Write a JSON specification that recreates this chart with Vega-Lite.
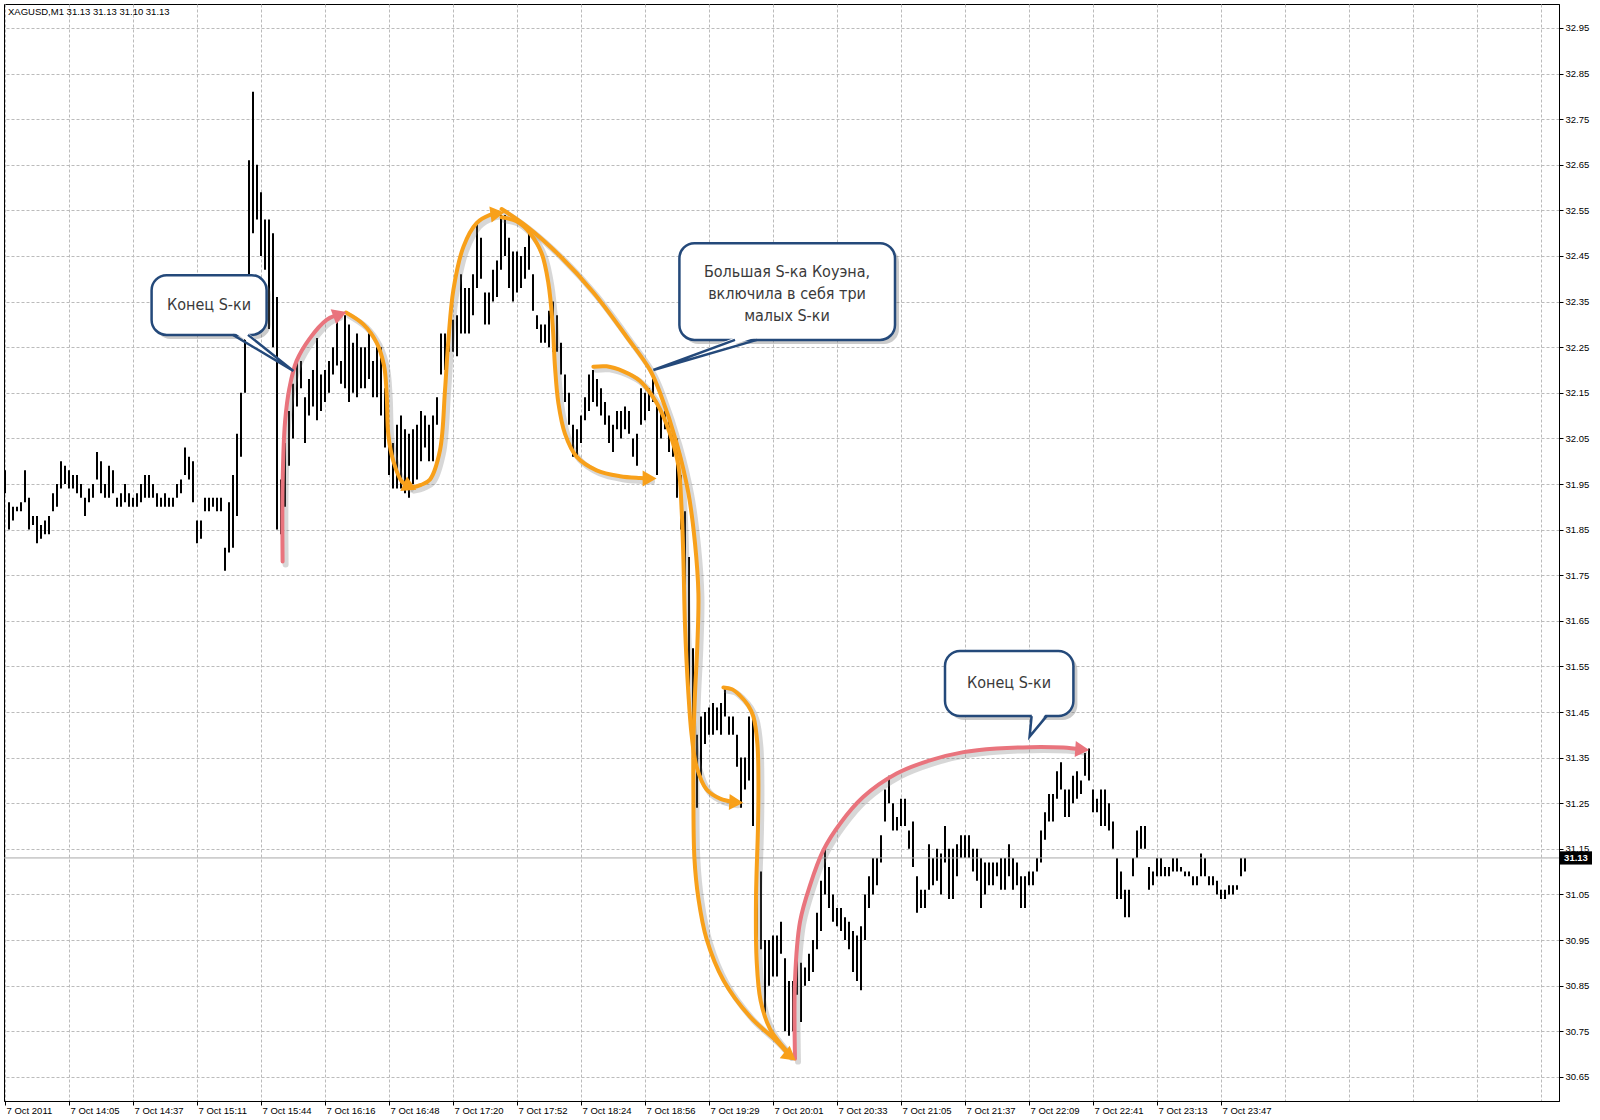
{
"$schema": "https://vega.github.io/schema/vega-lite/v6.json",
"width": 1555, "height": 1097,
"autosize": {"type": "none"},
"padding": {"left": 4, "top": 4, "right": 41, "bottom": 19},
"background": "#ffffff",
"config": {"view": {"stroke": "#000000", "strokeWidth": 1}},
"datasets": {
"bars": [
{"i":0,"l":31.93,"h":31.98},{"i":2,"l":31.85,"h":31.91},{"i":4,"l":31.87,"h":31.90},{"i":6,"l":31.89,"h":31.90},{"i":8,"l":31.89,"h":31.91},{"i":10,"l":31.91,"h":31.98},{"i":12,"l":31.85,"h":31.92},{"i":14,"l":31.86,"h":31.88},{"i":16,"l":31.82,"h":31.88},{"i":18,"l":31.83,"h":31.86},
{"i":20,"l":31.84,"h":31.87},{"i":22,"l":31.84,"h":31.88},{"i":24,"l":31.89,"h":31.93},{"i":26,"l":31.90,"h":31.95},{"i":28,"l":31.94,"h":32.00},{"i":30,"l":31.95,"h":31.99},{"i":32,"l":31.94,"h":31.98},{"i":34,"l":31.94,"h":31.97},{"i":36,"l":31.93,"h":31.97},{"i":38,"l":31.92,"h":31.95},
{"i":40,"l":31.88,"h":31.92},{"i":42,"l":31.91,"h":31.94},{"i":44,"l":31.92,"h":31.95},{"i":46,"l":31.96,"h":32.02},{"i":48,"l":31.93,"h":32.00},{"i":50,"l":31.92,"h":31.95},{"i":52,"l":31.92,"h":31.99},{"i":54,"l":31.93,"h":31.98},{"i":56,"l":31.90,"h":31.92},{"i":58,"l":31.90,"h":31.93},
{"i":60,"l":31.91,"h":31.95},{"i":62,"l":31.90,"h":31.93},{"i":64,"l":31.90,"h":31.92},{"i":66,"l":31.90,"h":31.93},{"i":68,"l":31.91,"h":31.95},{"i":70,"l":31.92,"h":31.97},{"i":72,"l":31.92,"h":31.97},{"i":74,"l":31.92,"h":31.95},{"i":76,"l":31.90,"h":31.93},{"i":78,"l":31.90,"h":31.92},
{"i":80,"l":31.90,"h":31.93},{"i":82,"l":31.90,"h":31.92},{"i":84,"l":31.90,"h":31.92},{"i":86,"l":31.92,"h":31.95},{"i":88,"l":31.93,"h":31.96},{"i":90,"l":31.97,"h":32.03},{"i":92,"l":31.96,"h":32.01},{"i":94,"l":31.91,"h":32.00},{"i":96,"l":31.82,"h":31.87},{"i":98,"l":31.83,"h":31.87},
{"i":100,"l":31.89,"h":31.92},{"i":102,"l":31.89,"h":31.92},{"i":104,"l":31.90,"h":31.92},{"i":106,"l":31.89,"h":31.92},{"i":108,"l":31.89,"h":31.92},{"i":110,"l":31.76,"h":31.81},{"i":112,"l":31.80,"h":31.91},{"i":114,"l":31.81,"h":31.97},{"i":116,"l":31.88,"h":32.06},{"i":118,"l":32.01,"h":32.15},
{"i":120,"l":32.15,"h":32.30},{"i":122,"l":32.40,"h":32.66},{"i":124,"l":32.50,"h":32.81},{"i":126,"l":32.53,"h":32.65},{"i":128,"l":32.45,"h":32.59},{"i":130,"l":32.42,"h":32.53},{"i":132,"l":32.29,"h":32.53},{"i":134,"l":32.25,"h":32.50},{"i":136,"l":31.85,"h":32.36},{"i":138,"l":31.84,"h":31.96},
{"i":140,"l":31.90,"h":32.04},{"i":142,"l":31.99,"h":32.11},{"i":144,"l":32.05,"h":32.17},{"i":146,"l":32.12,"h":32.22},{"i":148,"l":32.16,"h":32.22},{"i":150,"l":32.04,"h":32.14},{"i":152,"l":32.10,"h":32.18},{"i":154,"l":32.12,"h":32.20},{"i":156,"l":32.09,"h":32.27},{"i":158,"l":32.11,"h":32.19},
{"i":160,"l":32.13,"h":32.20},{"i":162,"l":32.15,"h":32.22},{"i":164,"l":32.19,"h":32.25},{"i":166,"l":32.21,"h":32.32},{"i":168,"l":32.17,"h":32.22},{"i":170,"l":32.16,"h":32.32},{"i":172,"l":32.13,"h":32.30},{"i":174,"l":32.15,"h":32.26},{"i":176,"l":32.14,"h":32.28},{"i":178,"l":32.16,"h":32.25},
{"i":180,"l":32.16,"h":32.25},{"i":182,"l":32.18,"h":32.28},{"i":184,"l":32.14,"h":32.22},{"i":186,"l":32.14,"h":32.25},{"i":188,"l":32.10,"h":32.25},{"i":190,"l":32.03,"h":32.16},{"i":192,"l":31.97,"h":32.06},{"i":194,"l":31.94,"h":32.04},{"i":196,"l":31.94,"h":32.08},{"i":198,"l":31.94,"h":32.10},
{"i":200,"l":31.93,"h":32.07},{"i":202,"l":31.92,"h":32.06},{"i":204,"l":31.95,"h":32.07},{"i":206,"l":31.96,"h":32.08},{"i":208,"l":32.00,"h":32.11},{"i":210,"l":32.03,"h":32.10},{"i":212,"l":32.00,"h":32.08},{"i":214,"l":32.00,"h":32.10},{"i":216,"l":32.08,"h":32.14},{"i":218,"l":32.19,"h":32.28},
{"i":220,"l":32.20,"h":32.28},{"i":222,"l":32.24,"h":32.30},{"i":224,"l":32.24,"h":32.31},{"i":226,"l":32.23,"h":32.32},{"i":228,"l":32.28,"h":32.41},{"i":230,"l":32.28,"h":32.38},{"i":232,"l":32.28,"h":32.38},{"i":234,"l":32.32,"h":32.41},{"i":236,"l":32.38,"h":32.52},{"i":238,"l":32.40,"h":32.49},
{"i":240,"l":32.30,"h":32.37},{"i":242,"l":32.30,"h":32.37},{"i":244,"l":32.35,"h":32.42},{"i":246,"l":32.36,"h":32.44},{"i":248,"l":32.42,"h":32.54},{"i":250,"l":32.45,"h":32.54},{"i":252,"l":32.38,"h":32.49},{"i":254,"l":32.35,"h":32.46},{"i":256,"l":32.37,"h":32.46},{"i":258,"l":32.38,"h":32.45},
{"i":260,"l":32.40,"h":32.47},{"i":262,"l":32.42,"h":32.51},{"i":264,"l":32.33,"h":32.41},{"i":266,"l":32.29,"h":32.32},{"i":268,"l":32.26,"h":32.30},{"i":270,"l":32.26,"h":32.30},{"i":272,"l":32.25,"h":32.33},{"i":274,"l":32.24,"h":32.35},{"i":276,"l":32.24,"h":32.32},{"i":278,"l":32.19,"h":32.26},
{"i":280,"l":32.13,"h":32.19},{"i":282,"l":32.08,"h":32.15},{"i":284,"l":32.01,"h":32.08},{"i":286,"l":32.01,"h":32.07},{"i":288,"l":32.04,"h":32.10},{"i":290,"l":32.09,"h":32.14},{"i":292,"l":32.11,"h":32.19},{"i":294,"l":32.13,"h":32.20},{"i":296,"l":32.12,"h":32.18},{"i":298,"l":32.10,"h":32.16},
{"i":300,"l":32.08,"h":32.13},{"i":302,"l":32.04,"h":32.10},{"i":304,"l":32.02,"h":32.08},{"i":306,"l":32.07,"h":32.11},{"i":308,"l":32.05,"h":32.11},{"i":310,"l":32.07,"h":32.12},{"i":312,"l":32.06,"h":32.11},{"i":314,"l":32.01,"h":32.05},{"i":316,"l":31.99,"h":32.06},{"i":318,"l":32.08,"h":32.16},
{"i":320,"l":32.09,"h":32.15},{"i":322,"l":32.11,"h":32.16},{"i":324,"l":32.13,"h":32.18},{"i":326,"l":31.97,"h":32.12},{"i":328,"l":32.05,"h":32.11},{"i":330,"l":32.07,"h":32.11},{"i":332,"l":32.02,"h":32.09},{"i":334,"l":32.01,"h":32.06},{"i":336,"l":31.92,"h":32.05},{"i":338,"l":31.85,"h":31.97},
{"i":340,"l":31.69,"h":31.89},{"i":342,"l":31.49,"h":31.79},{"i":344,"l":31.38,"h":31.59},{"i":346,"l":31.24,"h":31.40},{"i":348,"l":31.31,"h":31.44},{"i":350,"l":31.38,"h":31.45},{"i":352,"l":31.40,"h":31.46},{"i":354,"l":31.40,"h":31.47},{"i":356,"l":31.41,"h":31.46},{"i":358,"l":31.40,"h":31.47},
{"i":360,"l":31.44,"h":31.50},{"i":362,"l":31.40,"h":31.44},{"i":364,"l":31.40,"h":31.44},{"i":366,"l":31.33,"h":31.40},{"i":368,"l":31.24,"h":31.35},{"i":370,"l":31.28,"h":31.35},{"i":372,"l":31.30,"h":31.44},{"i":374,"l":31.20,"h":31.44},{"i":376,"l":30.95,"h":31.19},{"i":378,"l":30.93,"h":31.10},
{"i":380,"l":30.79,"h":30.95},{"i":382,"l":30.85,"h":30.95},{"i":384,"l":30.87,"h":30.96},{"i":386,"l":30.87,"h":30.96},{"i":388,"l":30.92,"h":30.99},{"i":390,"l":30.75,"h":30.91},{"i":392,"l":30.74,"h":30.86},{"i":394,"l":30.75,"h":30.86},{"i":396,"l":30.83,"h":30.93},{"i":398,"l":30.77,"h":30.90},
{"i":400,"l":30.85,"h":30.89},{"i":402,"l":30.86,"h":30.92},{"i":404,"l":30.88,"h":30.95},{"i":406,"l":30.93,"h":31.01},{"i":408,"l":30.97,"h":31.08},{"i":410,"l":31.05,"h":31.15},{"i":412,"l":31.02,"h":31.11},{"i":414,"l":30.99,"h":31.05},{"i":416,"l":30.98,"h":31.02},{"i":418,"l":30.97,"h":31.02},
{"i":420,"l":30.95,"h":31.00},{"i":422,"l":30.93,"h":30.99},{"i":424,"l":30.88,"h":30.97},{"i":426,"l":30.86,"h":30.96},{"i":428,"l":30.84,"h":30.98},{"i":430,"l":30.95,"h":31.05},{"i":432,"l":31.02,"h":31.09},{"i":434,"l":31.05,"h":31.13},{"i":436,"l":31.07,"h":31.13},{"i":438,"l":31.12,"h":31.18},
{"i":440,"l":31.21,"h":31.28},{"i":442,"l":31.25,"h":31.31},{"i":444,"l":31.19,"h":31.25},{"i":446,"l":31.19,"h":31.22},{"i":448,"l":31.20,"h":31.26},{"i":450,"l":31.20,"h":31.26},{"i":452,"l":31.15,"h":31.19},{"i":454,"l":31.11,"h":31.21},{"i":456,"l":31.01,"h":31.09},{"i":458,"l":31.02,"h":31.06},
{"i":460,"l":31.02,"h":31.06},{"i":462,"l":31.06,"h":31.16},{"i":464,"l":31.07,"h":31.13},{"i":466,"l":31.08,"h":31.15},{"i":468,"l":31.05,"h":31.14},{"i":470,"l":31.12,"h":31.20},{"i":472,"l":31.04,"h":31.15},{"i":474,"l":31.04,"h":31.15},{"i":476,"l":31.09,"h":31.16},{"i":478,"l":31.13,"h":31.18},
{"i":480,"l":31.13,"h":31.18},{"i":482,"l":31.13,"h":31.18},{"i":484,"l":31.10,"h":31.15},{"i":486,"l":31.08,"h":31.15},{"i":488,"l":31.02,"h":31.13},{"i":490,"l":31.05,"h":31.12},{"i":492,"l":31.07,"h":31.12},{"i":494,"l":31.07,"h":31.12},{"i":496,"l":31.09,"h":31.12},{"i":498,"l":31.06,"h":31.13},
{"i":500,"l":31.06,"h":31.13},{"i":502,"l":31.09,"h":31.16},{"i":504,"l":31.06,"h":31.13},{"i":506,"l":31.07,"h":31.12},{"i":508,"l":31.02,"h":31.09},{"i":510,"l":31.02,"h":31.09},{"i":512,"l":31.07,"h":31.10},{"i":514,"l":31.07,"h":31.10},{"i":516,"l":31.10,"h":31.13},{"i":518,"l":31.12,"h":31.19},
{"i":520,"l":31.17,"h":31.23},{"i":522,"l":31.21,"h":31.27},{"i":524,"l":31.21,"h":31.27},{"i":526,"l":31.26,"h":31.32},{"i":528,"l":31.28,"h":31.34},{"i":530,"l":31.22,"h":31.28},{"i":532,"l":31.22,"h":31.28},{"i":534,"l":31.25,"h":31.31},{"i":536,"l":31.26,"h":31.32},{"i":538,"l":31.27,"h":31.30},
{"i":540,"l":31.31,"h":31.36},{"i":542,"l":31.30,"h":31.37},{"i":544,"l":31.23,"h":31.28},{"i":546,"l":31.23,"h":31.26},{"i":548,"l":31.20,"h":31.28},{"i":550,"l":31.20,"h":31.28},{"i":552,"l":31.19,"h":31.25},{"i":554,"l":31.15,"h":31.21},{"i":556,"l":31.04,"h":31.13},{"i":558,"l":31.04,"h":31.10},
{"i":560,"l":31.00,"h":31.06},{"i":562,"l":31.00,"h":31.06},{"i":564,"l":31.09,"h":31.13},{"i":566,"l":31.13,"h":31.19},{"i":568,"l":31.15,"h":31.20},{"i":570,"l":31.15,"h":31.20},{"i":572,"l":31.06,"h":31.11},{"i":574,"l":31.07,"h":31.10},{"i":576,"l":31.09,"h":31.13},{"i":578,"l":31.09,"h":31.13},
{"i":580,"l":31.09,"h":31.11},{"i":582,"l":31.09,"h":31.11},{"i":584,"l":31.10,"h":31.13},{"i":586,"l":31.10,"h":31.13},{"i":588,"l":31.10,"h":31.11},{"i":590,"l":31.09,"h":31.10},{"i":592,"l":31.09,"h":31.10},{"i":594,"l":31.07,"h":31.09},{"i":596,"l":31.07,"h":31.09},{"i":598,"l":31.09,"h":31.14},
{"i":600,"l":31.09,"h":31.13},{"i":602,"l":31.07,"h":31.09},{"i":604,"l":31.07,"h":31.09},{"i":606,"l":31.05,"h":31.08},{"i":608,"l":31.04,"h":31.06},{"i":610,"l":31.04,"h":31.06},{"i":612,"l":31.05,"h":31.07},{"i":614,"l":31.05,"h":31.07},{"i":616,"l":31.06,"h":31.07},{"i":618,"l":31.09,"h":31.13},
{"i":620,"l":31.10,"h":31.13}
],
"paths": [
{"path":"p1","kind":"end","k":0,"i":138.8,"p":31.78},{"path":"p1","kind":"end","k":1,"i":138.8,"p":31.95},{"path":"p1","kind":"end","k":2,"i":140,"p":32.085},{"path":"p1","kind":"end","k":3,"i":142.2,"p":32.16},{"path":"p1","kind":"end","k":4,"i":145.8,"p":32.22},{"path":"p1","kind":"end","k":5,"i":152.5,"p":32.27},{"path":"p1","kind":"end","k":6,"i":160.8,"p":32.31},{"path":"p1","kind":"end","k":7,"i":166,"p":32.321},
{"path":"o1","kind":"s","k":0,"i":170.5,"p":32.326},{"path":"o1","kind":"s","k":1,"i":179.2,"p":32.30},{"path":"o1","kind":"s","k":2,"i":185.8,"p":32.26},{"path":"o1","kind":"s","k":3,"i":189.5,"p":32.21},{"path":"o1","kind":"s","k":4,"i":190.8,"p":32.15},{"path":"o1","kind":"s","k":5,"i":191.7,"p":32.056},{"path":"o1","kind":"s","k":6,"i":194.2,"p":32.0},{"path":"o1","kind":"s","k":7,"i":198.3,"p":31.956},{"path":"o1","kind":"s","k":8,"i":201.5,"p":31.945},
{"path":"o2","kind":"s","k":0,"i":203,"p":31.942},{"path":"o2","kind":"s","k":1,"i":208,"p":31.948},{"path":"o2","kind":"s","k":2,"i":212.5,"p":31.96},{"path":"o2","kind":"s","k":3,"i":217.5,"p":32.024},{"path":"o2","kind":"s","k":4,"i":220,"p":32.156},{"path":"o2","kind":"s","k":5,"i":221.7,"p":32.266},{"path":"o2","kind":"s","k":6,"i":224.2,"p":32.376},{"path":"o2","kind":"s","k":7,"i":229.2,"p":32.47},{"path":"o2","kind":"s","k":8,"i":235.8,"p":32.522},{"path":"o2","kind":"s","k":9,"i":242.5,"p":32.54},{"path":"o2","kind":"s","k":10,"i":246,"p":32.543},
{"path":"o3","kind":"s","k":0,"i":248.3,"p":32.535},{"path":"o3","kind":"s","k":1,"i":255.8,"p":32.526},{"path":"o3","kind":"s","k":2,"i":262.5,"p":32.50},{"path":"o3","kind":"s","k":3,"i":268.3,"p":32.456},{"path":"o3","kind":"s","k":4,"i":271.7,"p":32.39},{"path":"o3","kind":"s","k":5,"i":273.8,"p":32.30},{"path":"o3","kind":"s","k":6,"i":275,"p":32.207},{"path":"o3","kind":"s","k":7,"i":276.7,"p":32.127},{"path":"o3","kind":"s","k":8,"i":280,"p":32.06},{"path":"o3","kind":"s","k":9,"i":285.8,"p":32.01},{"path":"o3","kind":"s","k":10,"i":295.8,"p":31.98},{"path":"o3","kind":"s","k":11,"i":307.5,"p":31.967},{"path":"o3","kind":"s","k":12,"i":317.5,"p":31.963},{"path":"o3","kind":"s","k":13,"i":322,"p":31.962},
{"path":"b","kind":"s","k":0,"i":248.3,"p":32.553},{"path":"b","kind":"s","k":1,"i":260.8,"p":32.515},{"path":"b","kind":"s","k":2,"i":277.5,"p":32.45},{"path":"b","kind":"s","k":3,"i":294.2,"p":32.37},{"path":"b","kind":"s","k":4,"i":310.8,"p":32.273},{"path":"b","kind":"s","k":5,"i":322.5,"p":32.20},{"path":"b","kind":"s","k":6,"i":327.5,"p":32.15},{"path":"b","kind":"s","k":7,"i":335.8,"p":32.04},{"path":"b","kind":"s","k":8,"i":341.7,"p":31.93},{"path":"b","kind":"s","k":9,"i":345,"p":31.82},{"path":"b","kind":"s","k":10,"i":346.7,"p":31.71},{"path":"b","kind":"s","k":11,"i":346.2,"p":31.60},{"path":"b","kind":"s","k":12,"i":345,"p":31.49},{"path":"b","kind":"s","k":13,"i":344.2,"p":31.38},{"path":"b","kind":"s","k":14,"i":344.2,"p":31.27},{"path":"b","kind":"s","k":15,"i":344.7,"p":31.13},{"path":"b","kind":"s","k":16,"i":346.7,"p":31.041},{"path":"b","kind":"s","k":17,"i":350.8,"p":30.952},{"path":"b","kind":"s","k":18,"i":359.2,"p":30.862},{"path":"b","kind":"s","k":19,"i":372.5,"p":30.782},{"path":"b","kind":"s","k":20,"i":385.8,"p":30.728},{"path":"b","kind":"s","k":21,"i":392,"p":30.698},
{"path":"o4","kind":"s","k":0,"i":294.2,"p":32.207},{"path":"o4","kind":"s","k":1,"i":300.8,"p":32.208},{"path":"o4","kind":"s","k":2,"i":309.2,"p":32.197},{"path":"o4","kind":"s","k":3,"i":317.5,"p":32.176},{"path":"o4","kind":"s","k":4,"i":325.8,"p":32.128},{"path":"o4","kind":"s","k":5,"i":332.5,"p":32.06},{"path":"o4","kind":"s","k":6,"i":336.7,"p":31.99},{"path":"o4","kind":"s","k":7,"i":338.3,"p":31.895},{"path":"o4","kind":"s","k":8,"i":339.2,"p":31.785},{"path":"o4","kind":"s","k":9,"i":340,"p":31.64},{"path":"o4","kind":"s","k":10,"i":341.7,"p":31.49},{"path":"o4","kind":"s","k":11,"i":343.3,"p":31.40},{"path":"o4","kind":"s","k":12,"i":345.8,"p":31.33},{"path":"o4","kind":"s","k":13,"i":350.8,"p":31.28},{"path":"o4","kind":"s","k":14,"i":357.5,"p":31.26},{"path":"o4","kind":"s","k":15,"i":365,"p":31.252},
{"path":"o5","kind":"s","k":0,"i":359.2,"p":31.504},{"path":"o5","kind":"s","k":1,"i":363.5,"p":31.50},{"path":"o5","kind":"s","k":2,"i":367.5,"p":31.486},{"path":"o5","kind":"s","k":3,"i":371.5,"p":31.465},{"path":"o5","kind":"s","k":4,"i":374.2,"p":31.44},{"path":"o5","kind":"s","k":5,"i":376.2,"p":31.38},{"path":"o5","kind":"s","k":6,"i":376.7,"p":31.30},{"path":"o5","kind":"s","k":7,"i":376.5,"p":31.20},{"path":"o5","kind":"s","k":8,"i":375.5,"p":31.041},{"path":"o5","kind":"s","k":9,"i":375.8,"p":30.907},{"path":"o5","kind":"s","k":10,"i":377.8,"p":30.817},{"path":"o5","kind":"s","k":11,"i":382.5,"p":30.755},{"path":"o5","kind":"s","k":12,"i":389.2,"p":30.715},{"path":"o5","kind":"s","k":13,"i":392,"p":30.70},
{"path":"p2","kind":"end","k":0,"i":395,"p":30.69},{"path":"p2","kind":"end","k":1,"i":395,"p":30.862},{"path":"p2","kind":"end","k":2,"i":397.5,"p":30.99},{"path":"p2","kind":"end","k":3,"i":402.5,"p":31.07},{"path":"p2","kind":"end","k":4,"i":409.2,"p":31.147},{"path":"p2","kind":"end","k":5,"i":417.5,"p":31.205},{"path":"p2","kind":"end","k":6,"i":429.2,"p":31.264},{"path":"p2","kind":"end","k":7,"i":445.8,"p":31.315},{"path":"p2","kind":"end","k":8,"i":462.5,"p":31.344},{"path":"p2","kind":"end","k":9,"i":479.2,"p":31.362},{"path":"p2","kind":"end","k":10,"i":495.8,"p":31.37},{"path":"p2","kind":"end","k":11,"i":512.5,"p":31.373},{"path":"p2","kind":"end","k":12,"i":529.2,"p":31.372},{"path":"p2","kind":"end","k":13,"i":538,"p":31.368}
],
"arrows": [
{"kind":"end","i":167.5,"p":32.322,"dir":-20},
{"kind":"s","i":202.5,"p":31.944,"dir":25},
{"kind":"s","i":246.2,"p":32.543,"dir":-8},
{"kind":"s","i":322.3,"p":31.962,"dir":0},
{"kind":"s","i":365.6,"p":31.252,"dir":3},
{"kind":"s","i":392.6,"p":30.695,"dir":38},
{"kind":"end","i":538.6,"p":31.368,"dir":4}
],
"boxes": [
{"box":1,"x1":73.3,"x2":130.8,"y1":32.408,"y2":32.277},
{"box":2,"x1":337.2,"x2":445,"y1":32.478,"y2":32.266},
{"box":3,"x1":470,"x2":534.2,"y1":31.584,"y2":31.441}
],
"tails": [
{"box":1,"k":0,"i":114,"p":32.277},{"box":1,"k":1,"i":144.2,"p":32.198},{"box":1,"k":2,"i":121.5,"p":32.277},
{"box":2,"k":0,"i":365,"p":32.266},{"box":2,"k":1,"i":324.2,"p":32.20},{"box":2,"k":2,"i":376,"p":32.266},
{"box":3,"k":0,"i":513.3,"p":31.441},{"box":3,"k":1,"i":512.3,"p":31.396},{"box":3,"k":2,"i":520.8,"p":31.441}
],
"tailfill": [
{"box":1,"p":32.283,"a":114.3,"b":121.2},{"box":1,"p":32.198,"a":144.2,"b":144.2},
{"box":2,"p":32.272,"a":365.3,"b":375.7},{"box":2,"p":32.20,"a":324.2,"b":324.2},
{"box":3,"p":31.447,"a":513.5,"b":520.5},{"box":3,"p":31.396,"a":512.3,"b":512.3}
],
"texts": [
{"i":102,"p":32.343,"txt":"Конец S-ки"},
{"i":391,"p":32.416,"txt":"Большая S-ка Коуэна,"},
{"i":391,"p":32.367,"txt":"включила в себя три"},
{"i":391,"p":32.318,"txt":"малых S-ки"},
{"i":502,"p":31.513,"txt":"Конец S-ки"}
]
},
"layer": [
{
"data": {"name": "bars"},
"mark": {"type": "rule", "color": "#000000", "strokeWidth": 2},
"encoding": {
"x": {"field": "i", "type": "quantitative",
"scale": {"domain": [-0.5, 777], "nice": false, "zero": false},
"axis": {"orient": "bottom", "title": null,
"values": [0,16,32,48,64,80,96,112,128,144,160,176,192,208,224,240,256,272,288,304,320,336,352,368,384,400,416,432,448,464,480,496,512,528,544,560,576,592,608,624,640,656,672,688,704,720,736,752,768],
"grid": true, "gridColor": "#bbbbbb", "gridDash": [3, 2], "gridWidth": 1,
"domain": true, "domainColor": "#000000",
"tickSize": 4, "tickColor": {"condition": {"test": "datum.value % 32 === 0 && datum.value <= 608", "value": "#000000"}, "value": "transparent"},
"labelExpr": "(datum.value % 32 === 0 && datum.value <= 608) ? ['7 Oct 2011','7 Oct 14:05','7 Oct 14:37','7 Oct 15:11','7 Oct 15:44','7 Oct 16:16','7 Oct 16:48','7 Oct 17:20','7 Oct 17:52','7 Oct 18:24','7 Oct 18:56','7 Oct 19:29','7 Oct 20:01','7 Oct 20:33','7 Oct 21:05','7 Oct 21:37','7 Oct 22:09','7 Oct 22:41','7 Oct 23:13','7 Oct 23:47'][round(datum.value / 32)] : ''",
"labelAlign": "left", "labelBaseline": "top", "labelPadding": 0, "labelOffset": 1,
"labelFont": "Liberation Sans", "labelFontSize": 9.5, "labelColor": "#000000",
"labelOverlap": false, "labelFlush": false, "labelBound": false}},
"y": {"field": "l", "type": "quantitative",
"scale": {"domain": [30.597, 33.0026], "nice": false, "zero": false},
"axis": {"orient": "right", "title": null,
"values": [30.65,30.75,30.85,30.95,31.05,31.15,31.25,31.35,31.45,31.55,31.65,31.75,31.85,31.95,32.05,32.15,32.25,32.35,32.45,32.55,32.65,32.75,32.85,32.95],
"format": ".2f", "grid": true, "gridColor": "#bbbbbb", "gridDash": [3, 2], "gridWidth": 1,
"domain": true, "domainColor": "#000000", "tickSize": 4, "tickColor": "#000000",
"labelPadding": 2, "labelFont": "Liberation Sans", "labelFontSize": 9.5, "labelColor": "#000000",
"labelAlign": "left", "labelBaseline": "middle", "labelOverlap": false, "labelFlush": false}},
"y2": {"field": "h"}
}
},
{
"data": {"values": [{}]},
"mark": {"type": "rule", "color": "#a8a8a8", "strokeWidth": 1},
"encoding": {"y": {"datum": 31.13}}
},
{
"data": {"name": "paths"},
"mark": {"type": "line", "interpolate": "catmull-rom", "stroke": "#707070", "strokeWidth": 6, "opacity": 0.28, "xOffset": 3, "yOffset": 3, "strokeCap": "round"},
"encoding": {
"x": {"field": "i", "type": "quantitative"},
"y": {"field": "p", "type": "quantitative"},
"detail": {"field": "path"},
"order": {"field": "k"}
}
},
{
"data": {"name": "paths"},
"mark": {"type": "line", "interpolate": "catmull-rom", "strokeWidth": 4, "strokeCap": "round"},
"encoding": {
"x": {"field": "i", "type": "quantitative"},
"y": {"field": "p", "type": "quantitative"},
"detail": {"field": "path"},
"order": {"field": "k"},
"color": {"field": "kind", "type": "nominal", "scale": {"domain": ["s", "end"], "range": ["#f8a01a", "#e9747d"]}, "legend": null}
}
},
{
"data": {"name": "arrows"},
"mark": {"type": "point", "shape": "triangle-right", "filled": true, "size": 260, "opacity": 1},
"encoding": {
"x": {"field": "i", "type": "quantitative"},
"y": {"field": "p", "type": "quantitative"},
"angle": {"field": "dir", "type": "quantitative", "scale": null},
"color": {"field": "kind", "type": "nominal", "legend": null}
}
},
{
"data": {"name": "boxes"},
"mark": {"type": "rect", "fill": "#6a6a6a", "opacity": 0.35, "cornerRadius": 15, "xOffset": 4, "x2Offset": 4, "yOffset": 4, "y2Offset": 4},
"encoding": {
"x": {"field": "x1", "type": "quantitative"}, "x2": {"field": "x2"},
"y": {"field": "y1", "type": "quantitative"}, "y2": {"field": "y2"}
}
},
{
"data": {"name": "boxes"},
"mark": {"type": "rect", "fill": "#ffffff", "stroke": "#24497a", "strokeWidth": 2.5, "cornerRadius": 15},
"encoding": {
"x": {"field": "x1", "type": "quantitative"}, "x2": {"field": "x2"},
"y": {"field": "y1", "type": "quantitative"}, "y2": {"field": "y2"}
}
},
{
"data": {"name": "tailfill"},
"mark": {"type": "area", "orient": "horizontal", "fill": "#ffffff"},
"encoding": {
"y": {"field": "p", "type": "quantitative"},
"x": {"field": "a", "type": "quantitative"}, "x2": {"field": "b"},
"detail": {"field": "box"}
}
},
{
"data": {"name": "tails"},
"mark": {"type": "line", "stroke": "#24497a", "strokeWidth": 2.5, "strokeJoin": "miter"},
"encoding": {
"x": {"field": "i", "type": "quantitative"},
"y": {"field": "p", "type": "quantitative"},
"detail": {"field": "box"},
"order": {"field": "k"}
}
},
{
"data": {"name": "texts"},
"mark": {"type": "text", "font": "Liberation Sans Narrow, Arial Narrow, DejaVu Sans Condensed, Roboto Condensed, sans-serif", "fontSize": 16, "color": "#3a3a3a", "align": "center", "baseline": "middle"},
"encoding": {
"x": {"field": "i", "type": "quantitative"},
"y": {"field": "p", "type": "quantitative"},
"text": {"field": "txt"}
}
},
{
"data": {"values": [{}]},
"mark": {"type": "rect", "fill": "#000000"},
"encoding": {"x": {"datum": 777.5}, "x2": {"datum": 793.5}, "y": {"datum": 31.1445}, "y2": {"datum": 31.1155}}
},
{
"data": {"values": [{}]},
"mark": {"type": "text", "font": "Liberation Sans", "fontSize": 9.5, "color": "#ffffff", "align": "center", "baseline": "middle", "fontWeight": "bold"},
"encoding": {"x": {"datum": 785.5}, "y": {"datum": 31.13}, "text": {"value": "31.13"}}
},
{
"data": {"values": [{}]},
"mark": {"type": "text", "font": "Liberation Sans", "fontSize": 9.5, "color": "#000000", "align": "left", "baseline": "middle"},
"encoding": {"x": {"datum": 1.5}, "y": {"datum": 32.985}, "text": {"value": "XAGUSD,M1  31.13 31.13 31.10 31.13"}}
}
]
}
